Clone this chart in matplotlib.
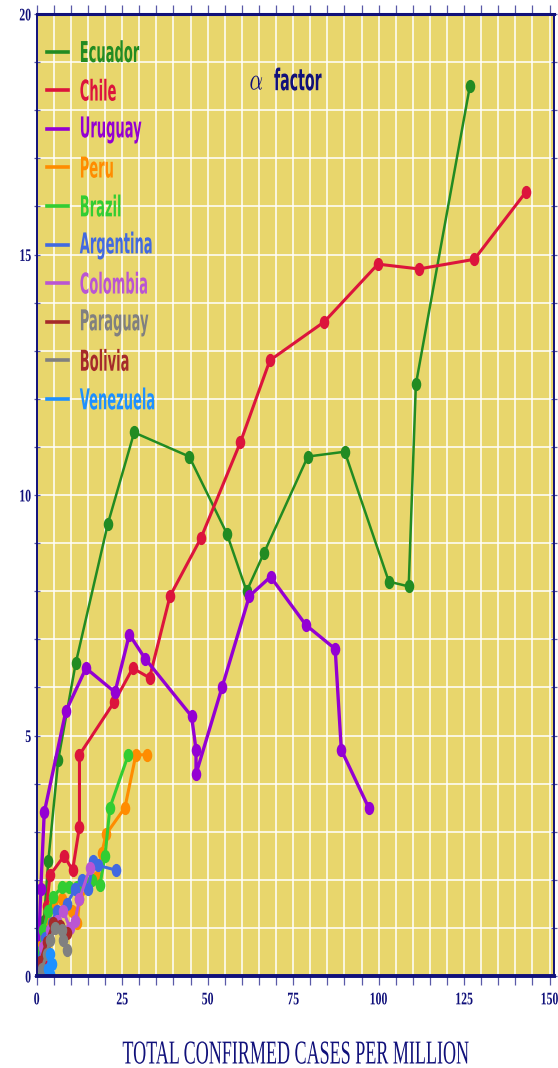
import matplotlib
matplotlib.use("Agg")
import matplotlib.pyplot as plt
from matplotlib.lines import Line2D
from matplotlib.path import Path
from matplotlib.patheffects import AbstractPathEffect
from matplotlib.ticker import MultipleLocator
from matplotlib.transforms import Affine2D

# ---- data --------------------------------------------------------------
countries = ["Ecuador", "Chile", "Uruguay", "Peru", "Brazil",
             "Argentina", "Colombia", "Paraguay", "Bolivia", "Venezuela"]
line_colors = ["#228B22", "#DC143C", "#9400D3", "#FF8C00", "#32CD32",
               "#4169E1", "#BA55D3", "#A52A2A", "#808080", "#1E90FF"]
# the legend text colours of Paraguay / Bolivia are swapped in the original
text_colors = ["#228B22", "#DC143C", "#9400D3", "#FF8C00", "#32CD32",
               "#4169E1", "#BA55D3", "#808080", "#A52A2A", "#1E90FF"]

ecuador_x = [1.0, 1.5, 2.1, 3.4, 6.3, 11.4, 20.8, 28.5, 44.6, 55.6, 61.4, 66.5, 79.3, 90.1, 103.0, 108.8, 110.9, 126.7]
ecuador_y = [0.2, 0.55, 1.15, 2.4, 4.5, 6.5, 9.4, 11.3, 10.8, 9.2, 8.0, 8.8, 10.8, 10.9, 8.2, 8.1, 12.3, 18.5]
chile_x = [1.8, 2.9, 3.9, 8.0, 10.5, 12.5, 12.5, 22.7, 28.1, 33.0, 39.0, 48.0, 59.6, 68.2, 84.1, 99.8, 111.8, 128.0, 143.1]
chile_y = [0.3, 1.45, 2.1, 2.5, 2.2, 3.1, 4.6, 5.7, 6.4, 6.2, 7.9, 9.1, 11.1, 12.8, 13.6, 14.8, 14.7, 14.9, 16.3]
uruguay_x = [0.5, 1.2, 2.2, 8.5, 14.4, 22.9, 27.1, 31.7, 45.3, 46.6, 46.6, 54.2, 62.2, 68.4, 78.7, 87.3, 89.1, 97.1]
uruguay_y = [0.5, 1.8, 3.4, 5.5, 6.4, 5.9, 7.1, 6.6, 5.4, 4.7, 4.2, 6.0, 7.9, 8.3, 7.3, 6.8, 4.7, 3.5]
peru_x = [0.5, 1.0, 4.9, 7.3, 10.2, 11.9, 12.5, 17.7, 19.0, 20.3, 25.8, 29.0, 32.3]
peru_y = [0.3, 0.6, 1.5, 1.6, 1.35, 1.1, 1.6, 2.05, 2.55, 2.95, 3.5, 4.6, 4.6]
brazil_x = [0.6, 1.0, 1.9, 3.4, 4.9, 7.3, 9.5, 11.7, 14.1, 16.1, 18.5, 20.0, 21.4, 26.8]
brazil_y = [0.1, 0.5, 0.95, 1.35, 1.65, 1.85, 1.85, 1.85, 1.95, 2.0, 1.9, 2.5, 3.5, 4.6]
argentina_x = [0.5, 2.4, 4.4, 5.8, 8.8, 11.2, 13.2, 15.1, 16.6, 18.0, 23.3]
argentina_y = [0.3, 0.8, 1.1, 1.35, 1.5, 1.8, 2.0, 1.8, 2.4, 2.3, 2.2]
colombia_x = [0.8, 1.9, 3.9, 5.8, 7.8, 9.7, 11.2, 12.5, 15.6]
colombia_y = [0.2, 0.6, 0.95, 1.15, 1.35, 1.0, 1.15, 1.6, 2.25]
paraguay_x = [1.0, 2.9, 4.9, 6.8, 8.8]
paraguay_y = [0.3, 0.7, 1.1, 1.05, 0.9]
bolivia_x = [1.5, 2.9, 3.9, 5.4, 7.3, 7.8, 8.8]
bolivia_y = [0.15, 0.45, 0.75, 1.0, 0.95, 0.75, 0.55]
venezuela_x = [3.2, 3.9, 4.4, 4.0]
venezuela_y = [0.15, 0.45, 0.25, 0.05]

series = [(ecuador_x, ecuador_y), (chile_x, chile_y), (uruguay_x, uruguay_y),
          (peru_x, peru_y), (brazil_x, brazil_y), (argentina_x, argentina_y),
          (colombia_x, colombia_y), (paraguay_x, paraguay_y),
          (bolivia_x, bolivia_y), (venezuela_x, venezuela_y)]
line_widths = [1.8, 2.2, 2.4, 2.2, 2.2, 2.2, 2.2, 2.2, 2.2, 2.2]

NAVY = "#10107a"
TICK = "#5a5aa8"
BG = "#E8D66C"
SANS = ["DejaVu Sans"]
SERIF = ["Liberation Serif", "DejaVu Serif"]


class TallText(AbstractPathEffect):
    """Stretch glyphs vertically about their centre: the source uses a tall, condensed face."""

    def __init__(self, sy):
        super().__init__()
        self.sy = sy

    def draw_path(self, renderer, gc, tpath, affine, rgbFace=None):
        ext = tpath.get_extents()
        cy = (ext.y0 + ext.y1) / 2
        stretch = Affine2D().translate(0, -cy).scale(1, self.sy).translate(0, cy)
        renderer.draw_path(gc, tpath, stretch + affine, rgbFace)


# tall elliptic markers, as in the original
ellipse = Path.unit_circle().transformed(Affine2D().scale(1, 1.45))

fig = plt.figure(figsize=(5.58, 10.68), dpi=100)
ax = fig.add_axes([0.0658, 0.0861, 0.9270, 0.9008])
ax.set_facecolor(BG)

for (xs, ys), c, lw in zip(series, line_colors, line_widths):
    ax.plot(xs, ys, color=c, lw=lw, marker=ellipse, ms=8.5, mec=c, mfc=c)

ax.set_xlim(0, 151.3)
ax.set_ylim(0, 20)
ax.xaxis.set_major_locator(MultipleLocator(25))
ax.xaxis.set_minor_locator(MultipleLocator(5))
ax.yaxis.set_major_locator(MultipleLocator(5))
ax.yaxis.set_minor_locator(MultipleLocator(1))
ax.set_axisbelow(True)
ax.grid(which="both", axis="both", color="white", lw=1.1)

ax.tick_params(axis="x", which="both", direction="out", length=6.5, width=0.9,
               color=TICK, top=True, labelcolor=NAVY, pad=6)
ax.tick_params(axis="y", which="both", direction="inout", length=5, width=0.9,
               color=TICK, right=True, labelcolor=NAVY, pad=1.5)
for side, w in (("bottom", 2.8), ("top", 2.2), ("left", 1.4), ("right", 1.4)):
    ax.spines[side].set_color(NAVY)
    ax.spines[side].set_linewidth(w)

for lbl in ax.get_xticklabels() + ax.get_yticklabels():
    lbl.set(family=SERIF, weight="bold", size=8.5)
    lbl.set_path_effects([TallText(1.5)])

# legend: line handles only, coloured labels
handles = [Line2D([], [], color=c, lw=2.6) for c in line_colors]
leg = ax.legend(handles, countries, loc="upper left", bbox_to_anchor=(0.01, 0.972),
                borderaxespad=0, frameon=False, labelcolor=text_colors,
                prop=dict(family=SANS, weight="bold", size=9.4),
                handlelength=1.6, handletextpad=0.9, labelspacing=1.96)
for t in leg.get_texts():
    t.set_path_effects([TallText(2.2)])

ax.text(64.4, 18.6, r"$\alpha$", color=NAVY, fontsize=15, ha="center", va="center",
        math_fontfamily="cm", path_effects=[TallText(1.5)])
ax.text(69.4, 18.62, "factor", color=NAVY, fontsize=10.2, ha="left", va="center",
        family=SANS, weight="bold", path_effects=[TallText(2.1)])

fig.text(0.529, 1 - 1054 / 1068, "TOTAL CONFIRMED CASES PER MILLION", color=NAVY,
         fontsize=13, ha="center", va="center", family=SERIF,
         path_effects=[TallText(1.85)])

fig.savefig("out.png", dpi=100, facecolor="white")
